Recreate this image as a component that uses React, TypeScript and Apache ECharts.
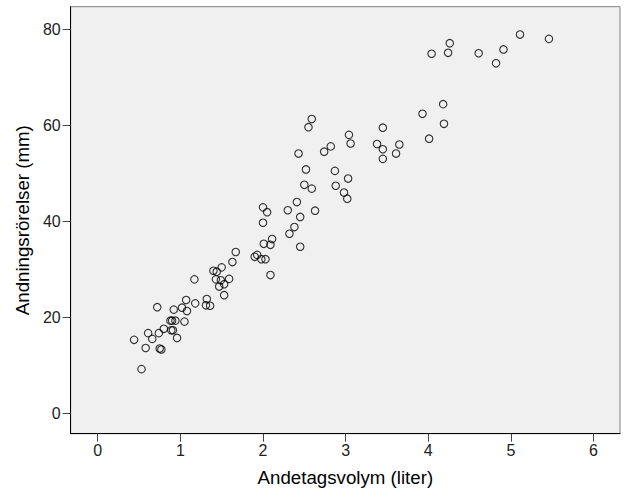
import React, { useEffect, useRef } from "react";
import * as echarts from "echarts";

// Andetagsvolym (liter)
const volym: number[] = [
  0.53, 0.44, 0.58, 0.61, 0.66, 0.74, 0.75, 0.77, 0.8, 0.88, 0.9, 0.94, 0.89, 0.91, 0.96,
  0.72, 0.92, 1.02, 1.07, 1.08, 1.05, 1.17, 1.18, 1.32, 1.31, 1.36, 1.4, 1.44, 1.5, 1.43,
  1.49, 1.53, 1.47, 1.53, 1.59, 1.63, 1.67,
  2.59, 2.55, 3.04, 3.06, 2.82, 2.74, 2.43, 2.52, 2.87, 3.03, 2.5, 2.59, 2.88, 2.98, 3.02,
  2.41, 2.3, 2.63, 2.45, 2.0, 2.05, 2.0, 2.38, 2.32, 2.45, 2.11, 2.01, 2.09, 1.93, 1.9,
  1.98, 2.03, 2.09,
  4.04, 4.26, 4.24, 4.61, 4.91, 4.82, 5.11, 5.46, 4.18, 3.93, 4.19, 4.01, 3.45, 3.38, 3.45,
  3.45, 3.65, 3.61,
];

// Andningsrörelser (mm)
const rorelser: number[] = [
  9.2, 15.3, 13.6, 16.7, 15.5, 16.7, 13.5, 13.3, 17.6, 19.3, 19.3, 19.3, 17.3, 17.3, 15.7,
  22.1, 21.6, 22.0, 23.6, 21.3, 19.1, 27.9, 22.9, 23.8, 22.5, 22.4, 29.7, 29.5, 30.4, 27.9,
  27.7, 26.9, 26.4, 24.6, 28.0, 31.5, 33.6,
  61.3, 59.6, 58.0, 56.2, 55.6, 54.5, 54.1, 50.8, 50.5, 48.9, 47.6, 46.8, 47.4, 46.0, 44.7,
  44.0, 42.3, 42.2, 40.9, 42.9, 41.9, 39.7, 38.8, 37.4, 34.7, 36.3, 35.3, 35.1, 33.0, 32.6,
  32.1, 32.1, 28.8,
  74.9, 77.1, 75.1, 75.0, 75.8, 72.9, 78.9, 78.0, 64.4, 62.4, 60.3, 57.2, 59.5, 56.1, 55.0,
  53.0, 56.0, 54.1,
];

const xTicks: number[] = [0, 1, 2, 3, 4, 5, 6];
const yTicks: number[] = [0, 20, 40, 60, 80];

export default function App() {
  const ref = useRef<HTMLDivElement>(null);

  useEffect(() => {
    if (!ref.current) return;
    const chart = echarts.init(ref.current, null, { renderer: "svg" });
    const points = volym.map((v, i) => [v, rorelser[i]]);
    const font = "'Liberation Sans', Arial, sans-serif";
    chart.setOption({
      animation: false,
      backgroundColor: "#ffffff",
      grid: {
        left: 70.7,
        right: 9,
        top: 6.7,
        bottom: 70.3,
        show: true,
        backgroundColor: "#f0f0f0",
        borderColor: "#808080",
        borderWidth: 1,
      },
      xAxis: {
        type: "value",
        min: -0.327,
        max: 6.32,
        name: "Andetagsvolym (liter)",
        nameLocation: "middle",
        nameGap: 34,
        nameTextStyle: { fontFamily: font, fontSize: 18.7, color: "#000" },
        axisLine: { show: true, onZero: false, lineStyle: { color: "#000", width: 1 } },
        axisTick: {
          show: true,
          length: 8,
          customValues: xTicks,
          lineStyle: { color: "#444", width: 1 },
        },
        axisLabel: {
          customValues: xTicks,
          fontFamily: font,
          fontSize: 16,
          color: "#222",
          margin: 9,
        },
        splitLine: { show: false },
      },
      yAxis: {
        type: "value",
        min: -4.25,
        max: 84.7,
        name: "Andningsrörelser (mm)",
        nameLocation: "middle",
        nameGap: 36,
        nameTextStyle: { fontFamily: font, fontSize: 18.7, color: "#000" },
        axisLine: { show: true, onZero: false, lineStyle: { color: "#000", width: 1 } },
        axisTick: {
          show: true,
          length: 8,
          customValues: yTicks,
          lineStyle: { color: "#444", width: 1 },
        },
        axisLabel: {
          customValues: yTicks,
          fontFamily: font,
          fontSize: 16,
          color: "#222",
          margin: 10,
        },
        splitLine: { show: false },
      },
      series: [
        {
          type: "scatter",
          data: points,
          symbol: "circle",
          symbolSize: 7.5,
          itemStyle: { color: "transparent", borderColor: "#000", borderWidth: 1.1 },
          emphasis: { disabled: true },
        },
      ],
    });
    return () => chart.dispose();
  }, []);

  return (
    <div
      ref={ref}
      style={{ position: "fixed", left: 0, top: 0, width: 629, height: 504 }}
    />
  );
}
